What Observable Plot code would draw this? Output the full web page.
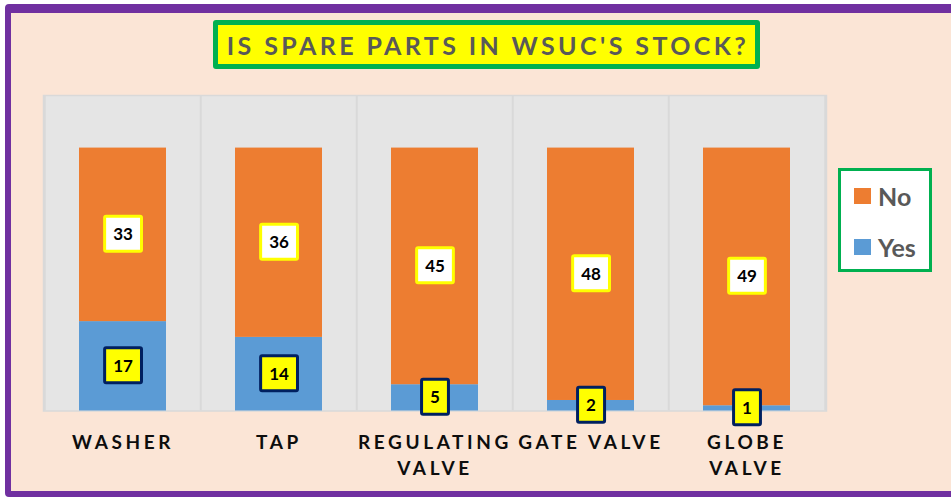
<!DOCTYPE html>
<html><head><meta charset="utf-8">
<script src="https://cdn.jsdelivr.net/npm/d3@7"></script>
<script src="https://cdn.jsdelivr.net/npm/@observablehq/plot@0.6"></script>
<style>
body{margin:0;background:#fff;}
#wrap{position:relative;width:951px;height:497px;overflow:hidden;background:#fff;font-family:Lato,"Open Sans",sans-serif;}
#panel{position:absolute;left:5px;top:4px;width:980px;height:493px;background:#fbe5d6;border:6px solid #7030a0;border-top-width:9px;border-radius:4px;box-sizing:border-box;}
#title{position:absolute;left:213px;top:20px;width:547px;height:49px;box-sizing:border-box;border:5px solid #00b050;background:#ffff00;border-radius:3px;color:#595959;font-weight:bold;font-size:25px;letter-spacing:3.4px;display:flex;align-items:center;justify-content:center;white-space:nowrap;padding-left:3px;}
#legend{position:absolute;left:838px;top:168px;width:94px;height:104px;box-sizing:border-box;border:3px solid #00b050;background:#fff;}
.item{position:absolute;left:13px;display:flex;align-items:center;font-weight:bold;font-size:25px;color:#595959;}
.sw{width:17px;height:16px;margin-right:7px;}
#chart{position:absolute;left:0;top:0;}
#chart svg{overflow:visible;}
g[aria-label="x-axis tick label"] text{letter-spacing:3.6px;}
</style>
</head><body>
<div id="wrap">
  <div id="panel"></div>
  <div id="title"></div>
  <div id="chart"></div>
  <div id="legend"></div>
</div>
<script>
const categories = ["WASHER", "TAP", "REGULATING VALVE", "GATE VALVE", "GLOBE VALVE"];
const tickLabels = ["WASHER", "TAP", "REGULATING\nVALVE", "GATE VALVE", "GLOBE\nVALVE"];
const yesValues = [17, 14, 5, 2, 1];
const noValues = [33, 36, 45, 48, 49];
const seriesNames = ["Yes", "No"];
const seriesColors = ["#5b9bd5", "#ed7d31"];
const titleText = "IS SPARE PARTS IN WSUC'S STOCK?";

document.getElementById("title").textContent = titleText;

const rows = [];
categories.forEach((c, i) => {
  rows.push({cat: c, series: "Yes", value: yesValues[i]});
  rows.push({cat: c, series: "No", value: noValues[i]});
});

const W = 951, H = 497;
const mL = 43, mR = 125, mT = 95, mB = 86.5;
const step = (W - mL - mR) / categories.length;

const plot = Plot.plot({
  width: W, height: H,
  marginLeft: mL, marginRight: mR, marginTop: mT, marginBottom: mB,
  style: {background: "transparent", fontFamily: "Lato, 'Open Sans', sans-serif"},
  x: {domain: categories, paddingInner: 0.444, paddingOuter: 0.222, axis: null, label: null},
  y: {domain: [0, 60], axis: null},
  color: {domain: seriesNames, range: seriesColors},
  marks: [
    Plot.frame({fill: "#e5e5e5", stroke: "#d9d9d9", strokeWidth: 1.5}),
    Plot.ruleX(categories, {x: d => d, dx: -step / 2, stroke: "#d9d9d9", strokeWidth: 2}),
    Plot.ruleX(categories.slice(-1), {x: d => d, dx: step / 2, stroke: "#d9d9d9", strokeWidth: 2}),
    Plot.barY(rows, {x: "cat", y: "value", fill: "series", order: seriesNames}),
    Plot.axisX({
      label: null,
      tickSize: 0, tickPadding: 19,
      tickFormat: d => tickLabels[categories.indexOf(d)],
      fontSize: 19, fontWeight: "bold", fill: "#0d0d0d", lineHeight: 1.4
    }),
    Plot.text(rows, Plot.stackY({
      x: "cat", y: "value", z: "series", order: seriesNames,
      text: d => String(d.value), fontSize: 17, fontWeight: "bold", fill: "#000"
    }))
  ]
});
document.getElementById("chart").appendChild(plot);

// boxes behind data labels (No: white / yellow border; Yes: yellow / navy border)
const textGroups = plot.querySelectorAll('g[aria-label="text"]');
const labelGroup = textGroups[textGroups.length - 1];
const boxStyle = {No: ["#ffffff", "#ffff00"], Yes: ["#ffff00", "#002060"]};
labelGroup.querySelectorAll("text").forEach((t, i) => {
  const d = rows[i];
  const [fill, stroke] = boxStyle[d.series];
  const b = t.getBBox();
  const cx = b.x + b.width / 2, cy = b.y + b.height / 2;
  const w = b.width + 17, h = 35;
  const r = document.createElementNS("http://www.w3.org/2000/svg", "rect");
  r.setAttribute("x", cx - w / 2);
  r.setAttribute("y", cy - h / 2);
  r.setAttribute("width", w);
  r.setAttribute("height", h);
  r.setAttribute("rx", 1.5);
  r.setAttribute("fill", fill);
  r.setAttribute("stroke", stroke);
  r.setAttribute("stroke-width", 3);
  const tr = t.getAttribute("transform");
  if (tr) r.setAttribute("transform", tr);
  t.parentNode.insertBefore(r, t);
});

// legend (top to bottom: No, Yes)
const legend = document.getElementById("legend");
["No", "Yes"].forEach((name, k) => {
  const idx = seriesNames.indexOf(name);
  const it = document.createElement("div");
  it.className = "item";
  it.style.top = (k === 0 ? 10 : 61) + "px";
  it.innerHTML = `<span class="sw" style="background:${seriesColors[idx]}"></span><span>${name}</span>`;
  legend.appendChild(it);
});
</script>
</body></html>
